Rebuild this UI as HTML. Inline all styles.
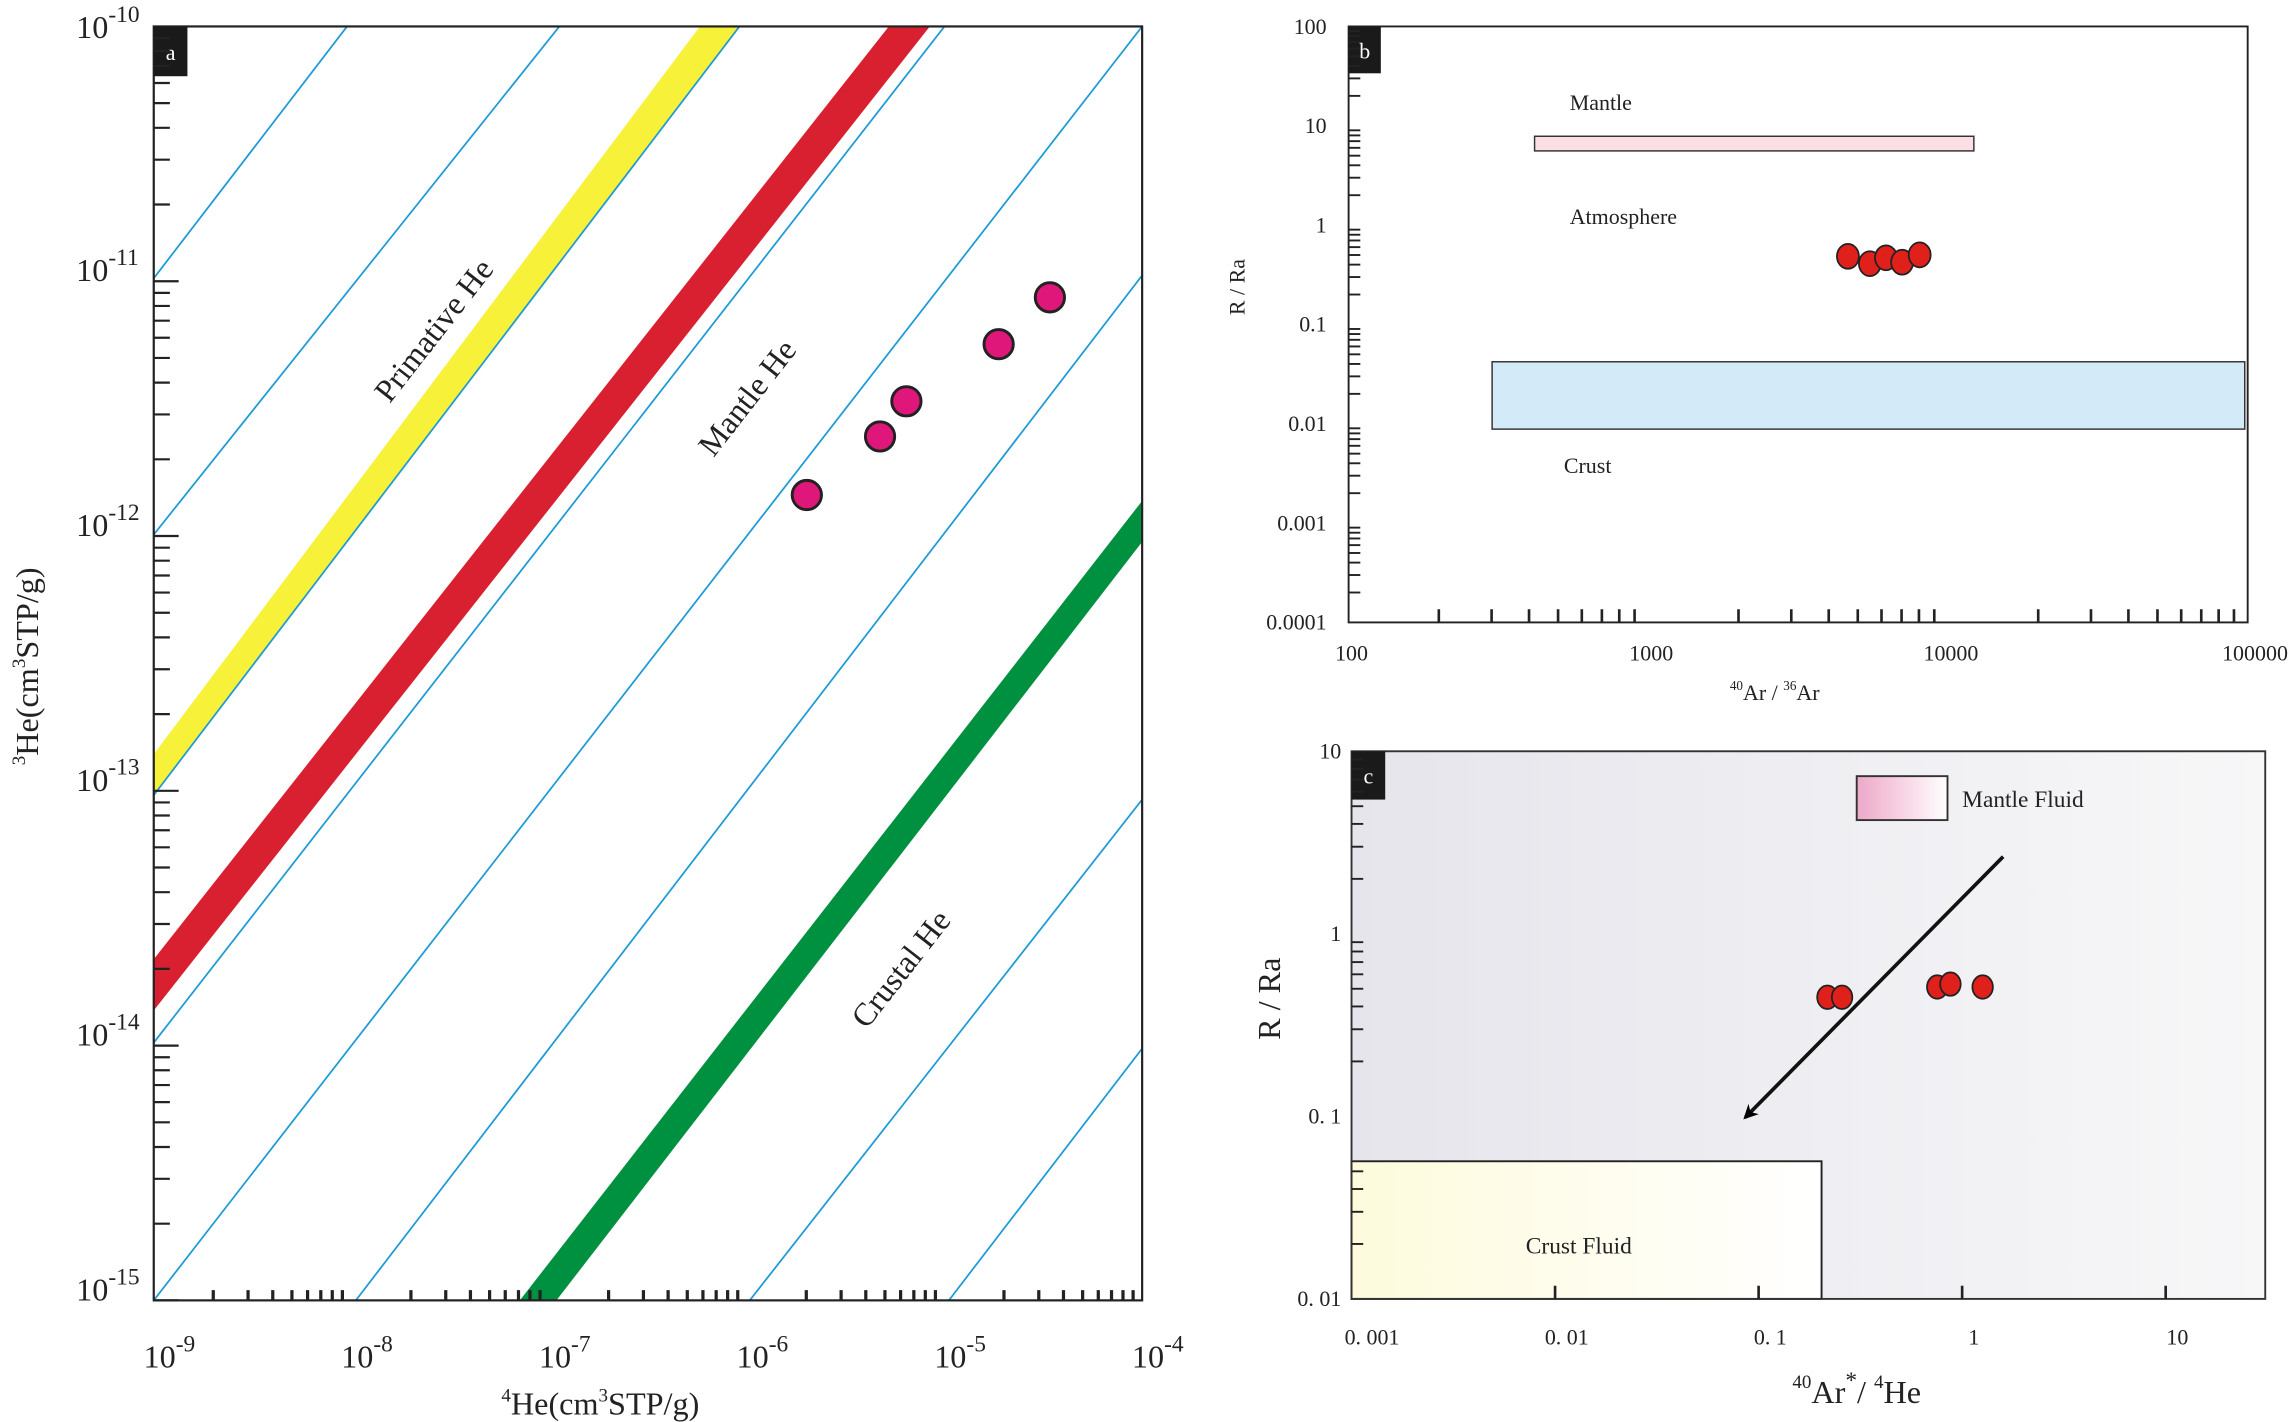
<!DOCTYPE html>
<html><head><meta charset="utf-8"><style>
html,body{margin:0;padding:0;background:#fff;}
svg{display:block;font-family:"Liberation Serif",serif;}
</style></head><body>
<svg id="s" width="2296" height="1422" viewBox="0 0 1568 971" xmlns="http://www.w3.org/2000/svg">
<defs>
<linearGradient id="bg" x1="0" x2="1" y1="0" y2="0"><stop offset="0" stop-color="#e6e5ec"/><stop offset="1" stop-color="#f7f7f8"/></linearGradient>
<linearGradient id="pk" x1="0" x2="1" y1="0" y2="0"><stop offset="0" stop-color="#eea8c8"/><stop offset="1" stop-color="#ffffff"/></linearGradient>
<linearGradient id="yl" x1="0" x2="1" y1="0" y2="0"><stop offset="0" stop-color="#fdfbdc"/><stop offset="1" stop-color="#ffffff"/></linearGradient>
<clipPath id="ca"><rect x="105" y="18" width="675" height="870"/></clipPath>
<marker id="ah" markerWidth="10" markerHeight="10" refX="8" refY="5" orient="auto" markerUnits="userSpaceOnUse"><path d="M0,0 L10,5 L0,10 L3,5 Z" fill="#000"/></marker>
</defs>
<!-- Panel a -->
<g clip-path="url(#ca)">
<polygon points="105,515 478,18 505,18 105,543" fill="#f7f139"/>
<polygon points="105,655 607,18 635,18 105,690" fill="#d92030"/>
<polygon points="355,888 780,342 780,370 380,888" fill="#009140"/>
<g stroke="#1e9ad6" stroke-width="1.2">
<line x1="105" y1="190" x2="237" y2="18"/>
<line x1="105" y1="365" x2="382" y2="18"/>
<line x1="105" y1="543" x2="505" y2="18"/>
<line x1="105" y1="712" x2="645" y2="18"/>
<line x1="105" y1="888" x2="780" y2="18"/>
<line x1="243" y1="888" x2="780" y2="188"/>
<line x1="512" y1="888" x2="780" y2="546"/>
<line x1="648" y1="888" x2="780" y2="716"/>
</g>
</g>
<rect x="105" y="18" width="675" height="870" fill="none" stroke="#222" stroke-width="1.5"/>
<rect x="105" y="18" width="23" height="34" fill="#1a1a1a"/>
<text x="116.5" y="41" fill="#fff" font-size="15" text-anchor="middle">a</text>
<g fill="#e0177a" stroke="#222" stroke-width="2">
<circle cx="551" cy="338" r="10"/><circle cx="601" cy="298" r="10"/><circle cx="619" cy="274" r="10"/><circle cx="682" cy="235" r="10"/><circle cx="717" cy="203" r="10"/>
</g>
<g font-size="22" fill="#222" text-anchor="middle">
<text transform="translate(302,230) rotate(-52)">Primative He</text>
<text transform="translate(516,276) rotate(-52)">Mantle He</text>
<text transform="translate(621,666) rotate(-52)">Crustal He</text>
</g>
<g id="ta" stroke="#222" stroke-width="1.5"></g>
<g font-size="22" fill="#222" id="la"></g>
<text transform="translate(26,455) rotate(-90)" font-size="22" fill="#222" text-anchor="middle"><tspan font-size="13" dy="-9">3</tspan><tspan dy="9">He(cm</tspan><tspan font-size="13" dy="-9">3</tspan><tspan dy="9">STP/g)</tspan></text>
<text x="410" y="966" font-size="22" fill="#222" text-anchor="middle"><tspan font-size="13" dy="-9">4</tspan><tspan dy="9">He(cm</tspan><tspan font-size="13" dy="-9">3</tspan><tspan dy="9">STP/g)</tspan></text>

<!-- Panel b -->
<rect x="1048" y="93" width="300" height="10" fill="#fbe0e3" stroke="#333" stroke-width="1"/>
<rect x="1019" y="247" width="514" height="46" fill="#d3eaf8" stroke="#333" stroke-width="1"/>
<g fill="#e0201b" stroke="#222" stroke-width="1.2">
<ellipse cx="1262" cy="175" rx="7.5" ry="8.5"/><ellipse cx="1277" cy="180" rx="7.5" ry="8.5"/><ellipse cx="1288" cy="176" rx="7.5" ry="8.5"/><ellipse cx="1299" cy="179" rx="7.5" ry="8.5"/><ellipse cx="1311" cy="174" rx="7.5" ry="8.5"/>
</g>
<rect x="921" y="18" width="614" height="407" fill="none" stroke="#222" stroke-width="1.3"/>
<rect x="921" y="18" width="22" height="32" fill="#1a1a1a"/>
<text x="932" y="40" fill="#fff" font-size="15" text-anchor="middle">b</text>
<g font-size="15" fill="#222">
<text x="1072" y="75">Mantle</text><text x="1072" y="153">Atmosphere</text><text x="1068" y="323">Crust</text>
</g>
<g id="tb" stroke="#222" stroke-width="1.3"></g>
<g font-size="15" fill="#222" id="lb"></g>
<text transform="translate(850,196) rotate(-90)" font-size="15" fill="#222" text-anchor="middle">R / Ra</text>
<text x="1212" y="478" font-size="15" fill="#222" text-anchor="middle"><tspan font-size="9" dy="-7">40</tspan><tspan dy="7">Ar / </tspan><tspan font-size="9" dy="-7">36</tspan><tspan dy="7">Ar</tspan></text>

<!-- Panel c -->
<rect x="923" y="513" width="624" height="374" fill="url(#bg)"/>
<rect x="1268" y="530" width="62" height="30" fill="url(#pk)" stroke="#333" stroke-width="1.3"/>
<rect x="923" y="793" width="321" height="94" fill="url(#yl)" stroke="#222" stroke-width="1.3"/>
<line x1="1368" y1="585" x2="1192" y2="763" stroke="#111" stroke-width="2.5" marker-end="url(#ah)"/>
<g fill="#e0201b" stroke="#222" stroke-width="1.2">
<ellipse cx="1248" cy="681" rx="7" ry="8"/><ellipse cx="1258" cy="681" rx="7" ry="8"/><ellipse cx="1323" cy="674" rx="7" ry="8"/><ellipse cx="1332" cy="672" rx="7" ry="8"/><ellipse cx="1354" cy="674" rx="7" ry="8"/>
</g>
<rect x="923" y="513" width="624" height="374" fill="none" stroke="#333" stroke-width="1.3"/>
<rect x="923" y="513" width="23" height="33" fill="#1a1a1a"/>
<text x="934.5" y="535" fill="#fff" font-size="15" text-anchor="middle">c</text>
<text x="1340" y="551" font-size="16" fill="#222">Mantle Fluid</text>
<text x="1042" y="856" font-size="16" fill="#222">Crust Fluid</text>
<g id="tc" stroke="#222" stroke-width="1.3"></g>
<g font-size="15" fill="#222" id="lc"></g>
<text transform="translate(874,682) rotate(-90)" font-size="22" fill="#222" text-anchor="middle">R / Ra</text>
<text x="1268" y="958" font-size="22" fill="#222" text-anchor="middle"><tspan font-size="13" dy="-10">40</tspan><tspan dy="10">Ar</tspan><tspan font-size="16" dy="-10">*</tspan><tspan dy="10">/ </tspan><tspan font-size="13" dy="-10">4</tspan><tspan dy="10">He</tspan></text>
</svg>
<script>
var NS="http://www.w3.org/2000/svg";
function L(g,x1,y1,x2,y2,w){var l=document.createElementNS(NS,"line");l.setAttribute("x1",x1);l.setAttribute("y1",y1);l.setAttribute("x2",x2);l.setAttribute("y2",y2);if(w)l.setAttribute("stroke-width",w);g.appendChild(l);}
function T(g,x,y,s,anchor,sup,fs){var t=document.createElementNS(NS,"text");t.setAttribute("x",x);t.setAttribute("y",y);if(anchor)t.setAttribute("text-anchor",anchor);t.textContent=s;if(sup){var sp=document.createElementNS(NS,"tspan");sp.setAttribute("font-size",fs);sp.setAttribute("dy","-11");sp.textContent=sup;t.appendChild(sp);}g.appendChild(t);}
var lg=Math.log10;
// panel a
var ta=document.getElementById("ta"),la=document.getElementById("la");
var ydec=174,xdec=135;
for(var d=0;d<5;d++){for(var k=1;k<10;k++){var y=888-(d+lg(k))*ydec;L(ta,105,y,k==1?122:116,y);var x=105+(d+lg(k))*xdec;if(k>1)L(ta,x,888,x,881,2.2);}}
for(var d=0;d<=5;d++){T(la,52,888-d*ydec+(d==5?8:0),"10","start","-"+(15-d),16);T(la,98+d*xdec,934,"10","start","-"+(9-d),16);}
// panel b
var tb=document.getElementById("tb"),lb=document.getElementById("lb");
var by=407/6,bx=614/3;
for(var d=0;d<6;d++){for(var k=2;k<10;k++){var y=425-(d+lg(k))*by;L(tb,921,y,929,y);}}
for(var d=0;d<3;d++){for(var k=2;k<10;k++){var x=921+(d+lg(k))*bx;L(tb,x,425,x,416,1.8);}}
var yl=["0.0001","0.001","0.01","0.1","1","10","100"];
for(var d=0;d<7;d++)T(lb,906,425-d*by+5,yl[d],"end");
var xl=["100","1000","10000","100000"];
for(var d=0;d<4;d++)T(lb,921+d*bx+(d==3?5:2),451,xl[d],"middle");
// panel c
var tc=document.getElementById("tc"),lc=document.getElementById("lc");
var cy=374/3,cx=139;
for(var d=0;d<3;d++){for(var k=2;k<10;k++){var y=887-(d+lg(k))*cy;if(y>793||d>0)L(tc,923,y,931,y);}}
for(var d=1;d<5;d++){var x=923+d*cx;L(tc,x,887,x,878,1.8);}
var cyl=["0. 01","0. 1","1","10"];
for(var d=0;d<4;d++)T(lc,916,887-d*cy+5,cyl[d],"end");
var cxl=["0. 001","0. 01","0. 1","1","10"];
for(var d=0;d<5;d++)T(lc,937+d*cx-(d==0?0:6),918,cxl[d],"middle");
</script>
</body></html>
